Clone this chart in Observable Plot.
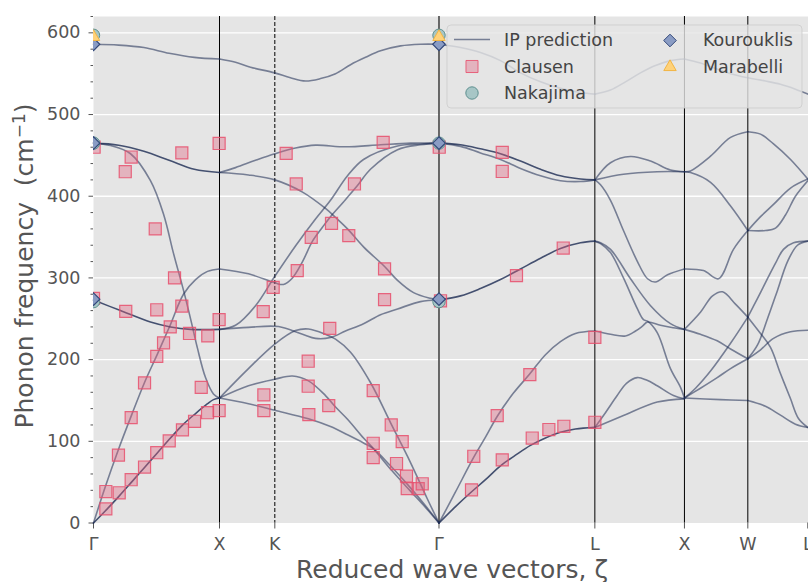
<!DOCTYPE html>
<html><head><meta charset="utf-8">
<script src="https://cdn.jsdelivr.net/npm/d3@7"></script>
<script src="https://cdn.jsdelivr.net/npm/@observablehq/plot@0.6"></script>
<style>
body{margin:0;background:#fff}
#chart{position:relative;width:808px;height:582px;overflow:hidden}
</style>
</head><body><div id="chart"></div>
<script>
// High-symmetry points along the path (reduced wave vector, Γ–X = 1)
const tickQ = [0, 1, 1.439, 2.742, 3.979, 4.690, 5.193, 5.669];
const tickLabels = ["Γ", "X", "K", "Γ", "L", "X", "W", "L"];
const yMajor = [0, 100, 200, 300, 400, 500, 600];
const yMinor = [20, 40, 60, 80, 120, 140, 160, 180, 220, 240, 260, 280, 320, 340, 360, 380, 420, 440, 460, 480, 520, 540, 560, 580, 620];

// IP prediction branches: {deg, pts:[[q, cm-1], ...]}
const gammaX = [
  {deg: 1, pts: [[0,586],[0.2,585],[0.4,582],[0.6,575],[0.8,570],[1,568]]},
  {deg: 2, pts: [[0,465],[0.2,462.5],[0.4,455],[0.6,444],[0.8,433],[1,429]]},
  {deg: 1, pts: [[0,465],[0.135,462],[0.294,452],[0.452,419],[0.556,378],[0.635,330],[0.714,285],[0.778,245],[0.825,214],[0.889,178],[0.952,158],[1,153]]},
  {deg: 2, pts: [[0,273],[0.214,260],[0.452,246],[0.611,240],[0.77,237],[1,237]]},
  {deg: 1, pts: [[0,0],[0.095,45],[0.198,90],[0.302,132],[0.405,172],[0.508,207],[0.611,243],[0.714,280],[0.81,298],[0.905,308],[1,311]]},
  {deg: 2, pts: [[0,0],[0.095,15],[0.198,32],[0.302,50],[0.405,68],[0.508,86],[0.611,104],[0.714,121],[0.81,134],[0.905,146],[0.952,151],[1,153]]}
];
const xKGamma = [
  {deg: 1, pts: [[1,568],[1.127,564],[1.246,558],[1.437,551],[1.563,545],[1.683,541],[1.802,544],[1.921,550],[2.04,561],[2.159,570],[2.278,578],[2.437,584],[2.595,586],[2.742,586]]},
  {deg: 1, pts: [[1,429],[1.127,435],[1.286,444],[1.439,452],[1.603,459],[1.762,462.5],[2,460.5],[2.278,463],[2.516,465],[2.742,465]]},
  {deg: 1, pts: [[1,429],[1.23,426],[1.439,420],[1.659,405],[1.841,385],[1.921,374],[2.016,360],[2.143,338],[2.31,314],[2.413,297],[2.54,282],[2.675,275],[2.742,273]]},
  {deg: 1, pts: [[1,311],[1.23,305],[1.439,294],[1.508,292],[1.579,300],[1.659,320],[1.738,345],[1.817,362],[1.881,375],[1.984,393],[2.095,413],[2.198,433],[2.413,457],[2.595,463],[2.742,465]]},
  {deg: 1, pts: [[1,237],[1.127,242],[1.286,266],[1.439,302],[1.603,339],[1.762,372],[1.881,395],[2.016,425],[2.143,445],[2.413,461.5],[2.595,464],[2.742,465]]},
  {deg: 1, pts: [[1,237],[1.23,239.5],[1.468,240.5],[1.659,231],[1.762,226],[1.881,227],[2,235],[2.143,244],[2.278,255],[2.413,262],[2.595,271],[2.742,273]]},
  {deg: 1, pts: [[1,153],[1.23,189],[1.439,219],[1.603,235.5],[1.706,237.5],[1.841,231],[1.921,225],[2.04,209],[2.198,172],[2.357,123],[2.516,74],[2.648,30],[2.742,0]]},
  {deg: 1, pts: [[1,153],[1.23,168],[1.439,176],[1.579,180],[1.706,174],[1.841,156],[1.921,142],[2.016,127],[2.143,104],[2.222,91],[2.357,66],[2.516,39],[2.635,19],[2.742,0]]},
  {deg: 1, pts: [[1,153],[1.23,146],[1.439,138],[1.706,127.5],[1.881,118],[2.016,108],[2.143,98],[2.222,91],[2.357,70],[2.516,43],[2.635,21],[2.742,0]]}
];
const gammaL = [
  {deg: 1, pts: [[2.742,586],[2.913,582],[3.071,576],[3.23,566],[3.389,551],[3.548,540],[3.706,532],[3.865,527],[3.979,525]]},
  {deg: 2, pts: [[2.742,465],[2.913,463],[3.071,458],[3.23,452],[3.389,443],[3.548,433],[3.706,425],[3.865,421],[3.979,420]]},
  {deg: 1, pts: [[2.742,465],[2.913,461],[3.071,453],[3.23,445],[3.389,434],[3.548,425],[3.706,419],[3.865,418],[3.979,420]]},
  {deg: 2, pts: [[2.742,273],[2.913,278],[3.071,287],[3.23,298],[3.389,311],[3.548,324],[3.706,336],[3.865,343],[3.979,345]]},
  {deg: 1, pts: [[2.742,0],[2.873,38],[3.016,80],[3.111,105],[3.206,131],[3.333,159],[3.46,182],[3.587,206],[3.706,222],[3.825,232],[3.979,235]]},
  {deg: 2, pts: [[2.742,0],[2.873,20],[2.992,37],[3.111,53],[3.23,70],[3.349,83],[3.468,95],[3.587,104],[3.706,111],[3.825,115],[3.979,117]]}
];
const lX = [
  {deg: 1, pts: [[3.979,525],[4.103,530],[4.222,540],[4.341,551],[4.46,560],[4.579,566],[4.69,568]]},
  {deg: 1, pts: [[3.979,420],[4.103,441],[4.262,448.7],[4.421,443],[4.579,432],[4.69,430]]},
  {deg: 1, pts: [[3.979,420],[4.206,427],[4.474,430],[4.69,430]]},
  {deg: 1, pts: [[3.979,420],[4.024,414],[4.103,395],[4.206,358],[4.317,320],[4.397,299],[4.46,295],[4.556,304],[4.69,311]]},
  {deg: 1, pts: [[3.979,345],[4.024,343],[4.103,335],[4.262,299],[4.421,266],[4.579,244],[4.69,237]]},
  {deg: 1, pts: [[3.979,345],[4.024,342],[4.103,331],[4.206,300],[4.317,262],[4.365,249],[4.397,247],[4.474,233],[4.579,189],[4.659,166],[4.69,153]]},
  {deg: 1, pts: [[3.979,235],[4.103,231],[4.222,229],[4.302,235],[4.357,241],[4.397,246],[4.5,242],[4.6,239],[4.69,237]]},
  {deg: 1, pts: [[3.979,117],[4.063,135],[4.156,156],[4.23,171],[4.315,178],[4.389,175],[4.474,168],[4.603,156],[4.69,152]]},
  {deg: 1, pts: [[3.979,117],[4.206,131.5],[4.474,148],[4.69,152]]}
];
const xW = [
  {deg: 1, pts: [[4.69,568],[4.817,563],[4.944,556],[5.056,550],[5.193,545]]},
  {deg: 1, pts: [[4.69,430],[4.738,431],[4.897,449],[5.056,472],[5.193,479]]},
  {deg: 1, pts: [[4.69,430],[4.738,429],[4.897,417],[5.056,388],[5.193,358]]},
  {deg: 1, pts: [[4.69,311],[4.841,309],[4.96,299],[5.079,335],[5.193,358]]},
  {deg: 1, pts: [[4.69,153],[4.976,151],[5.193,150]]},
  {deg: 1, pts: [[4.69,153],[4.817,165],[4.95,178],[5.056,189],[5.193,201]]},
  {deg: 1, pts: [[4.69,153],[4.778,165],[4.897,186],[5.056,220],[5.193,252]]},
  {deg: 1, pts: [[4.69,237],[4.817,258],[4.913,278],[4.992,283],[5.095,268],[5.193,252]]},
  {deg: 1, pts: [[4.69,237],[4.817,231],[4.95,223],[5.056,213],[5.193,201]]}
];
const wL = [
  {deg: 1, pts: [[5.193,545],[5.333,541],[5.452,537],[5.571,531],[5.669,525]]},
  {deg: 1, pts: [[5.193,479],[5.294,476],[5.397,464],[5.532,445],[5.669,421]]},
  {deg: 1, pts: [[5.193,358],[5.294,375],[5.397,390],[5.532,410],[5.669,421]]},
  {deg: 1, pts: [[5.193,358],[5.333,358],[5.413,361],[5.492,377],[5.571,400],[5.669,419]]},
  {deg: 1, pts: [[5.193,150],[5.333,143],[5.452,132],[5.571,121],[5.669,117]]},
  {deg: 1, pts: [[5.193,201],[5.294,212],[5.397,226],[5.532,234],[5.669,236]]},
  {deg: 1, pts: [[5.193,252],[5.27,275],[5.349,299],[5.413,318],[5.476,335],[5.556,343],[5.669,345]]},
  {deg: 1, pts: [[5.193,252],[5.294,232],[5.373,215],[5.452,183],[5.532,152],[5.595,128],[5.669,117]]},
  {deg: 1, pts: [[5.193,201],[5.27,218],[5.349,250],[5.429,285],[5.508,320],[5.587,340],[5.669,345]]}
];

// Experimental data [q, cm-1]
const clausen = [
  [0.005,460],[0.299,448],[0.252,430],[0.701,453],[0.997,464.6],[0.49,360],[0.643,300],[0,275],[0.256,259],[0.502,261],[0.701,265.5],[0.609,240],[0.556,220.5],[0.502,204],[0.405,171.5],[0.299,129],[0.198,83],[0.098,38.5],[0.098,17.3],[0.204,37],[0.299,53],[0.405,68.5],[0.502,86],[0.601,100.5],[0.706,114],[0.802,124.5],[0.905,135],[0.997,137.6],[0.855,166],[0.762,232],[0.907,229],[0.997,249],
  [1.529,452.4],[1.609,415],[1.889,366.7],[1.728,349.6],[1.617,309],[1.426,288.5],[1.347,258.7],[1.875,238.3],[1.704,198],[1.704,167.4],[1.352,156.8],[1.352,137.6],[1.709,132.7],[1.867,143.7],[2.299,466],[2.071,415],[2.026,351.7],[2.31,311],[2.31,273.4],[2.22,162],[2.363,120],[2.45,99.7],[2.22,97.6],[2.22,80],[2.405,72.8],[2.484,57.3],[2.49,42],[2.577,42],[2.609,48],[2.744,460],[2.754,272],
  [3.244,453.6],[3.244,430.3],[3.728,336.6],[3.357,302.8],[3.979,227.3],[3.463,181.6],[3.204,131.5],[3.018,81.7],[3.0,40.6],[3.244,77.3],[3.482,104],[3.614,114.4],[3.733,118.4],[3.979,123.3]
];
const nakajima = [[0,597],[2.742,597],[0,465],[2.742,465],[0,271],[2.742,271]];
const kourouklis = [[0,586],[2.742,586],[0,465],[2.742,465],[0,274],[2.742,274]];
const marabelli = [[0,595],[2.742,595]];

// build line rows
const lineRows = [];
let bid = 0;
for (const seg of [gammaX, xKGamma, gammaL, lX, xW, wL]) {
  for (const br of seg) {
    const op = 1 - Math.pow(1 - 0.55, br.deg);
    for (const [q, f] of br.pts) lineRows.push({q, f, id: bid, op});
    bid++;
  }
}
const labelAt = new Map(tickQ.map((q, i) => [q, tickLabels[i]]));
const vlines = [
  {q: tickQ[1], stroke: "#000", w: 1, dash: null},
  {q: tickQ[2], stroke: "#000", w: 1, dash: "4,2"},
  {q: tickQ[3], stroke: "#5a5a5a", w: 1.8, dash: null},
  {q: tickQ[4], stroke: "#000", w: 1, dash: null},
  {q: tickQ[5], stroke: "#000", w: 1, dash: null},
  {q: tickQ[6], stroke: "#000", w: 1, dash: null}
];

const C = {
  line: "#1b2a52",
  sqFill: "#e0607e", sqStroke: "#e8506d",
  nkFill: "#a7c6c6", nkStroke: "#5f9090",
  koFill: "#8a9cc4", koStroke: "#34497a",
  maFill: "#ffd27a", maStroke: "#f2b544"
};

const plot = Plot.plot({
  width: 808, height: 582,
  marginLeft: 93, marginRight: 0, marginTop: 16, marginBottom: 59.5,
  x: {domain: [0, 5.6746]},
  y: {domain: [0, 620]},
  style: {fontFamily: "DejaVu Sans, sans-serif", background: "white", color: "#555"},
  marks: [
    Plot.frame({fill: "#e5e5e5", stroke: "none"}),
    Plot.ruleY(yMajor.filter(d => d > 0), {stroke: "white", strokeWidth: 1.3}),
    Plot.axisY(yMinor, {tickSize: 2.5, tickFormat: () => "", color: "#555", label: null}),
    Plot.axisY(yMajor, {tickSize: 4.5, tickPadding: 8.5, fontSize: 17.5, color: "#555", label: null}),
    Plot.axisX(tickQ, {tickSize: 6, tickPadding: 8.6, fontSize: 17.5, color: "#555", label: null, tickFormat: d => labelAt.get(d)}),
    ...vlines.map(v => Plot.ruleX([v.q], {stroke: v.stroke, strokeWidth: v.w, strokeDasharray: v.dash})),
    Plot.line(lineRows, {x: "q", y: "f", z: "id", stroke: C.line, strokeOpacity: "op", strokeWidth: 1.6, curve: "catmull-rom"}),
    Plot.dot(clausen, {x: d => d[0], y: d => d[1], symbol: "square", r: 6.8, fill: C.sqFill, fillOpacity: 0.38, stroke: C.sqStroke, strokeOpacity: 0.85, strokeWidth: 1.2, clip: true}),
    Plot.dot(nakajima, {x: d => d[0], y: d => d[1], symbol: "circle", r: 6.2, fill: C.nkFill, stroke: C.nkStroke, strokeWidth: 1, clip: true}),
    Plot.dot(kourouklis, {x: d => d[0], y: d => d[1], symbol: "diamond2", r: 5.7, fill: C.koFill, stroke: C.koStroke, strokeWidth: 1.2, clip: true}),
    Plot.dot(marabelli, {x: d => d[0], y: d => d[1], symbol: "triangle", r: 4.6, fill: C.maFill, stroke: C.maStroke, strokeWidth: 1, clip: true})
  ]
});
document.getElementById("chart").appendChild(plot);

const svg = d3.select(plot);
// axis labels
const yl = svg.append("text")
  .attr("transform", "translate(33,266) rotate(-90)")
  .attr("text-anchor", "middle").attr("fill", "#555")
  .attr("font-size", 25).attr("font-family", "DejaVu Sans, sans-serif");
yl.append("tspan").text("Phonon frequency\u00a0 (cm");
yl.append("tspan").attr("font-size", 17).attr("dy", "-0.5em").text("\u22121");
yl.append("tspan").attr("dy", "0.35em").text(")");
svg.append("text").attr("x", 452).attr("y", 578)
  .attr("text-anchor", "middle").attr("fill", "#555")
  .attr("font-size", 25).attr("font-family", "DejaVu Sans, sans-serif")
  .text("Reduced wave vectors, ζ");

// legend
const lg = svg.append("g").attr("font-family", "DejaVu Sans, sans-serif").attr("font-size", 17.5)
  .attr("fill", "#444").attr("text-anchor", "start");
lg.append("rect").attr("x", 447).attr("y", 25).attr("width", 355).attr("height", 83).attr("rx", 4)
  .attr("fill", "#e5e5e5").attr("fill-opacity", 0.8).attr("stroke", "#cccccc").attr("stroke-opacity", 0.8);
lg.append("line").attr("x1", 454).attr("x2", 490).attr("y1", 39.5).attr("y2", 39.5)
  .attr("stroke", C.line).attr("stroke-opacity", 0.55).attr("stroke-width", 1.6);
function sym(type, r, x, y, fill, fo, stroke, so) {
  lg.append("path").attr("d", d3.symbol(type, Math.PI * r * r)())
    .attr("transform", `translate(${x},${y})`)
    .attr("fill", fill).attr("fill-opacity", fo).attr("stroke", stroke).attr("stroke-opacity", so);
}
sym(d3.symbolSquare, 6.8, 472, 66.5, C.sqFill, 0.38, C.sqStroke, 0.85);
sym(d3.symbolCircle, 6.2, 472, 93, C.nkFill, 1, C.nkStroke, 1);
sym(d3.symbolDiamond2, 5.7, 670, 40.5, C.koFill, 1, C.koStroke, 1);
sym(d3.symbolTriangle, 4.6, 670, 67, C.maFill, 1, C.maStroke, 1);
const legendText = [["IP prediction", 504, 45.7], ["Clausen", 504, 72.7], ["Nakajima", 504, 99.2], ["Kourouklis", 703, 46.2], ["Marabelli", 703, 73]];
for (const [t, x, y] of legendText) lg.append("text").attr("x", x).attr("y", y).attr("text-anchor", "start").text(t);
</script>
</body></html>
